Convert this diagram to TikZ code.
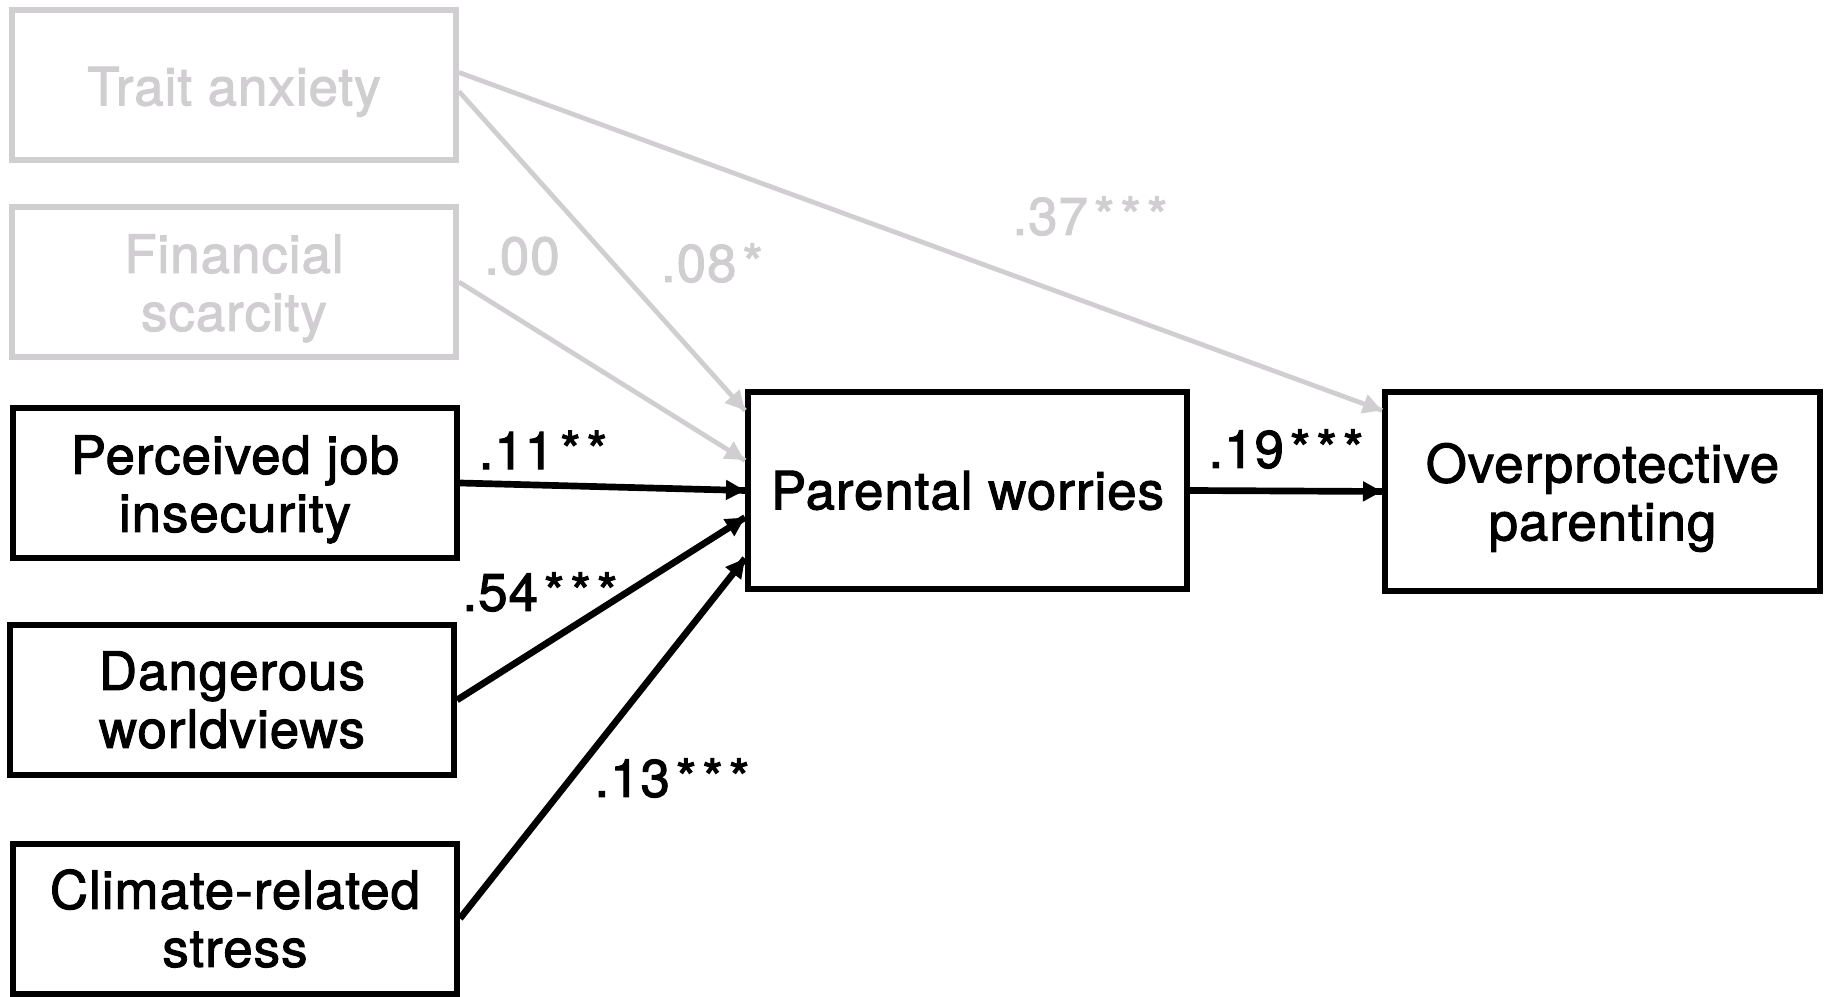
\documentclass[tikz,border=0pt]{standalone}
\usepackage{fontspec}
\setmainfont{TeX Gyre Heros}
\newfontfamily\diagfont{TeX Gyre Heros}[FakeBold=2, LetterSpace=2.0]
\usetikzlibrary{decorations.markings,arrows.meta}
\definecolor{faded}{RGB}{208,206,208}
\newcommand{\sg}{\kern1.7pt*}
\newcommand{\dropline}{\rule{0pt}{14.6pt}}

\begin{document}
\begin{tikzpicture}[
  box/.style={draw, line width=0.06cm, align=center, inner sep=0pt,
    font=\diagfont\fontsize{15}{16.5}\selectfont, minimum width=4.44cm, minimum height=1.50cm},
  fadedbox/.style={box, color=faded},
  coef/.style={font=\diagfont\fontsize{15}{16.5}\selectfont, inner sep=0pt},
  link/.style={line width=1.9pt,
    decoration={markings,mark=at position 1 with {\arrow{Triangle[length=0.19cm,width=0.19cm]}}},
    postaction={decorate}},
  fadedlink/.style={link, color=faded, line width=1.35pt}
]
\useasboundingbox (0,0) rectangle (18.25,-9.97);

% predictors
\node[fadedbox] (ta) at (2.34,-0.855) {\dropline Trait anxiety};
\node[fadedbox] (fs) at (2.34,-2.82) {\dropline Financial\\scarcity};
\node[box] (pji) at (2.35,-4.83) {\dropline Perceived job\\insecurity};
\node[box] (dw) at (2.32,-7.00) {Dangerous\\worldviews};
\node[box] (crs) at (2.35,-9.185) {Climate-related\\stress};

% mediator and outcome
\node[box, minimum width=4.39cm, minimum height=1.97cm] (pw) at (9.675,-4.905) {Parental worries};
\node[box, minimum width=4.35cm, minimum height=1.99cm] (op) at (16.025,-4.915) {\dropline Overprotective\\parenting};

% paths
\draw[fadedlink] ([yshift=0.13cm]ta.east) -- ([yshift=0.81cm]op.west);
\draw[fadedlink] ([yshift=-0.06cm]ta.east) -- ([yshift=0.80cm]pw.west);
\draw[fadedlink] (fs.east) -- ([yshift=0.30cm]pw.west);
\draw[link] (pji.east) -- (pw.west);
\draw[link] (dw.east) -- ([yshift=-0.27cm]pw.west);
\draw[link] (crs.east) -- ([yshift=-0.68cm]pw.west);
\draw[link] (pw.east) -- (op.west);

% coefficients
\node[coef, text=faded] (b37) at (10.90,-2.16) {.37\sg\sg\sg};
\node[coef, text=faded] (b08) at (7.12,-2.63) {.08\sg};
\node[coef, text=faded] (b00) at (5.22,-2.56) {.00};
\node[coef] (b11) at (5.43,-4.50) {.11\sg\sg};
\node[coef] (b54) at (5.40,-5.92) {.54\sg\sg\sg};
\node[coef] (b13) at (6.72,-7.78) {.13\sg\sg\sg};
\node[coef] (b19) at (12.86,-4.49) {.19\sg\sg\sg};
\end{tikzpicture}
\end{document}
